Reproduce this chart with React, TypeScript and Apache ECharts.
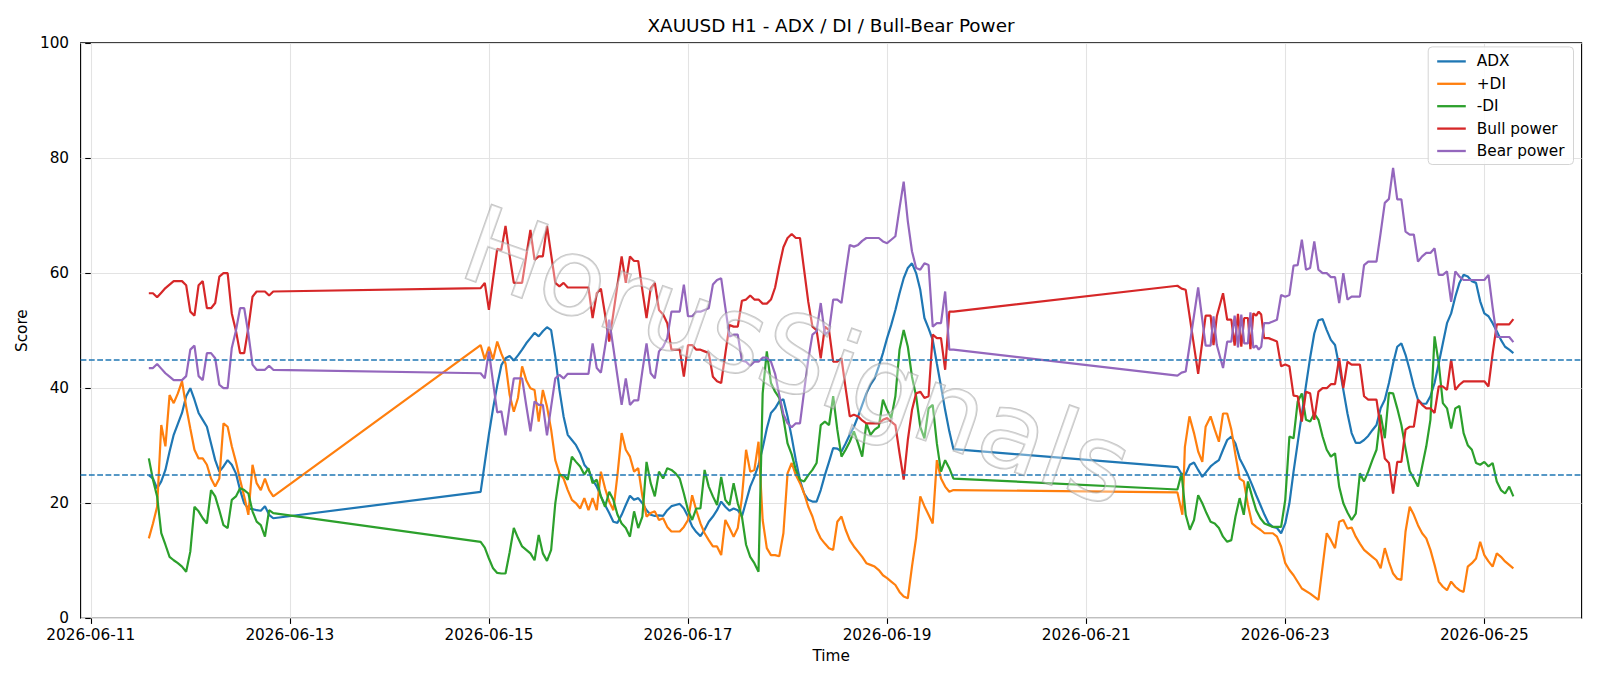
import React, { useEffect, useRef } from "react";
import * as echarts from "echarts";

// Time is expressed in hours after 2026-06-11 00:00
const SEG1_START = 14;
const SEG2_START = 94;
const SEG3_START = 262;
const TICK_HOURS = [0, 48, 96, 144, 192, 240, 288, 336];

const TITLE = "XAUUSD H1 - ADX / DI / Bull-Bear Power";
const SERIES_NAMES = ["ADX", "+DI", "-DI", "Bull power", "Bear power"];
const COLORS = ["#1f77b4", "#ff7f0e", "#2ca02c", "#d62728", "#9467bd"];
const THRESHOLDS = [25, 45];

// ---------- ADX ----------
const adxSeg1 = [24.9, 24.3, 22.6, 23.8, 25.8, 29, 31.9, 33.8, 35.7, 38.6, 40, 38, 35.7, 34.5, 33.3, 30.4, 27.5, 25.5, 26.4, 27.5, 26.7, 25.2, 22.3, 20, 19.1, 19, 18.8, 18.7, 19.5, 18, 17.4];
const adxSeg2 = [
  22, 27, 32, 36.5, 40.5, 44, 45.2, 45.6, 44.8, 45.7,
  46.7, 47.8, 48.7, 49.6, 49, 49.9, 50.6, 50.1, 45.5, 39.7,
  35.1, 31.9, 31, 30.1, 28.7, 26.7, 25.8, 24.1, 22.9, 21.2,
  19.7, 18.3, 16.8, 16.6, 18, 19.7, 21.3, 20.6, 20.9, 20,
  18.8, 18, 17.8, 17.9, 17.8, 18.8, 19.5, 19.7, 19.9, 19.1,
  17.7, 16, 15, 14.3, 15.4, 16.8, 17.7, 18.8, 20.3, 19.4,
  18.7, 19.1, 18.8, 17.7, 20.3, 22.9, 24.6, 26.7, 29.6, 33,
  35.7, 36.5, 37.7, 38.1, 35.1, 31.5, 27.5, 24, 21.7, 20.6,
  20.3, 20.3, 22.3, 24.9, 27.2, 29.6, 29.5, 29, 30.4, 31.9,
  33.3, 35.1, 37.1, 39.1, 40.6, 41.7, 43.8, 46.1, 48.7, 51,
  53.6, 56.5, 59.1, 60.9, 61.7, 60, 57.1, 52.2, 50.4, 48.4,
  44.3, 40.3, 36.2, 32.5, 29.4,
];
const adxSeg3 = [
  26.3, 25.1, 25.1, 26.7, 27.1, 25.8, 24.6, 25.5, 26.4, 27,
  27.5, 29.3, 31, 31.6, 30.4, 27.8, 26.4, 24.9, 23.2, 21.4,
  19.7, 18, 16.5, 15.9, 15.7, 14.8, 16.5, 20, 25.5, 30.5,
  35.5, 40.5, 45.3, 49.5, 51.8, 52, 50.1, 48.4, 47.5, 43.8,
  39.7, 35.6, 32.2, 30.5, 30.5, 31, 31.7, 32.7, 33.6, 36.5,
  38, 40.9, 44.3, 47.2, 47.8, 45.8, 43.2, 40.3, 38, 37.3,
  37.3, 38.6, 40.9, 44.3, 47.8, 51.3, 53, 55.9, 58.3, 59.7,
  59.4, 58.6, 58.3, 55.1, 53, 52.5, 51.3, 49.9, 48.4, 47.2,
  46.7, 46.1,
];

// ---------- +DI ----------
const pdiSeg1 = [13.9, 16.5, 19.4, 33.6, 29.9, 38.8, 37.4, 39.1, 41.2, 36.8, 33, 29.3, 27.8, 27.8, 26.7, 24.3, 22.9, 24.3, 33.9, 33.3, 29.9, 27.2, 24.1, 21.2, 18, 26.7, 23.5, 22.3, 24.3, 22.3, 21.2];
const pdiSeg2 = [
  47.5, 45, 47.2, 45, 48.1, 46, 44.3, 38.8, 35.9, 38.3,
  43.8, 41.4, 40, 39.7, 34.2, 39.7, 36.8, 32.8, 27.5, 25.2,
  24.3, 22.3, 20.6, 20, 19.1, 20.9, 18.8, 20.9, 18.8, 25.5,
  22.6, 20.3, 18.8, 25, 32.2, 29.3, 28.1, 25.5, 26.1, 21.2,
  17.7, 18.3, 18.6, 17.1, 17.4, 15.9, 15.1, 15.1, 15.1, 15.9,
  17.1, 21.4, 18.8, 16.5, 14.8, 13.6, 12.5, 12.5, 11, 17.1,
  15.7, 14.2, 15.7, 21, 29.3, 25.5, 25.8, 30.7, 17.1, 12.2,
  11, 11, 10.8, 14.8, 25.2, 27, 24.9, 23.5, 21.7, 19.4,
  17.7, 15.4, 13.9, 13, 12.2, 11.9, 16.8, 17.7, 15.4, 13.6,
  12.5, 11.6, 10.7, 9.6, 9.3, 9, 8.4, 7.5, 7, 6.4,
  5.8, 4.6, 3.8, 3.5, 9, 14, 21.2, 19.5, 18, 16.5,
  27.5, 24.3, 22.9, 22, 22.3,
];
const pdiSeg3Early: [number, number][] = [
  [262, 21.9], [263.2, 18], [263.8, 29.8], [264.9, 35.1], [266, 32.2], [267, 29], [268, 27.2],
  [268.8, 33.3], [270, 35.1], [271, 32.8], [272, 30.7], [273, 35.6], [274, 35.6], [275, 32.8],
  [276, 28.4], [277, 24.3], [278, 23.8], [279, 19.7], [280, 16.5], [281, 15.9], [282, 15.4],
  [283, 14.8], [284, 14.8], [285, 14.8], [286, 14.2], [287, 12.5], [288, 9.6], [289, 8.4],
  [290, 7.5], [292, 5.2], [294, 4.3], [296, 3.2],
];
const PDI_SEG3_LATE_START = 298;
const pdiSeg3Late = [
  14.8, 13.6, 12.2, 16.8, 17.1, 15.6, 15.8, 14.2, 13, 11.9,
  11.3, 10.7, 10.1, 8.7, 12.2, 9.8, 7.8, 6.9, 6.7, 15.1,
  19.4, 18, 16.2, 14.8, 13.9, 11.9, 9.3, 6.4, 5.5, 4.9,
  6.4, 5.5, 4.9, 4.6, 9, 9.6, 10.4, 13.3, 11, 9.9,
  9, 11.3, 10.7, 9.9, 9.3, 8.7,
];

// ---------- -DI ----------
const mdiSeg1 = [27.8, 24.1, 21.2, 14.8, 12.8, 10.7, 10.1, 9.6, 9, 8.1, 11.6, 19.4, 18.6, 17.4, 16.5, 22.3, 21.2, 18.8, 16.2, 15.7, 20.6, 21.2, 22.6, 22.3, 21.7, 18.6, 16.8, 16.2, 14.2, 18.8, 18.3];
const mdiSeg2 = [
  13.3, 12.3, 10.4, 8.7, 7.9, 7.8, 7.8, 11.5, 15.7, 14,
  12.5, 11.9, 11.3, 10.1, 14.5, 11.3, 10, 11.9, 20, 24.9,
  24.9, 24.1, 28.1, 27.2, 26.4, 25, 26.1, 23.5, 24.1, 21.2,
  19.4, 22, 20.6, 18, 16.5, 15.7, 14.2, 18.6, 15.7, 17.7,
  27.2, 23.5, 21.2, 25.5, 24.3, 26.1, 25.8, 25.2, 24.3, 21.7,
  18.8, 17.1, 19.1, 19.1, 25.8, 22.9, 21.2, 19.7, 24.6, 20.6,
  19.7, 23.5, 20, 17.7, 12.8, 10.7, 9.6, 8.1, 39.1, 46.4,
  40.9, 39.4, 38.3, 34.8, 30.4, 28.5, 25.8, 24.1, 23.8, 24.9,
  25.8, 27, 33.6, 34.2, 33.6, 38.6, 32.8, 28.1, 29.3, 30.7,
  32.5, 30.4, 28.1, 33.9, 31.9, 32.8, 33.3, 38, 36.2, 34.8,
  38.6, 46.7, 50.1, 47.2, 42, 38.6, 33.3, 31.3, 36.5, 37.1,
  30.4, 25.5, 27.5, 26.1, 24.3,
];
const mdiSeg3 = [
  22.4, 25.2, 18, 15.4, 17.1, 21.4, 20, 18.3, 16.8, 16.5,
  15.7, 14.2, 13.3, 13.6, 17.7, 20.9, 18, 23.8, 21.2, 18.8,
  17.4, 16.5, 16.2, 15.9, 15.9, 15.9, 20.6, 31.6, 31.3, 37.7,
  39.1, 34.5, 34.2, 35.6, 34.5, 31.6, 29.3, 28.1, 28.7, 22.9,
  20, 18.4, 17.1, 18.2, 25.2, 23.8, 25.5, 27.5, 29.3, 35.4,
  31.3, 39.2, 39.1, 36.5, 33.6, 29.5, 25.6, 24.3, 22.9, 26.4,
  29.9, 34.5, 49, 44.3, 37.4, 36.5, 33, 36.5, 36.9, 32.2,
  30.1, 29.3, 27, 26.7, 27.2, 26.4, 27, 23.8, 22.3, 21.7,
  22.9, 21.2,
];

// ---------- Bull power ----------
const bullSeg1 = [56.5, 56.5, 55.8, 56.6, 57.4, 58, 58.6, 58.6, 58.6, 57.9, 53.3, 52.6, 57.9, 58.6, 53.9, 53.9, 54.8, 59.4, 60, 60, 53, 50, 46.1, 46.1, 50.5, 55.9, 56.8, 56.8, 56.8, 56.1, 56.8];
const bullSeg2 = [
  57.4, 58.3, 53.6, 59, 64.2, 64, 68.2, 63, 58.3, 58.3,
  58.3, 63, 67.5, 62.3, 62.9, 62.9, 68.2, 63.2, 58.3, 57.7,
  58.3, 57.5, 57.5, 57.5, 57.5, 57.5, 57.5, 52.2, 56.5, 57.3,
  52.8, 48.1, 53, 58, 62.9, 58.3, 62.9, 62.1, 62.1, 57,
  52.2, 57.4, 58.3, 53.6, 52.8, 51.3, 46.7, 46.7, 46.7, 42,
  47.5, 47.5, 46.7, 46.7, 46.4, 46.1, 42, 41.2, 40.9, 46,
  51, 50.7, 50.7, 55.2, 55.4, 56.1, 55.4, 55.4, 54.7, 54.7,
  55.4, 57.5, 61.2, 64.5, 66.1, 66.8, 66.1, 66.1, 60.5, 55,
  50.7, 50.1, 45.2, 50.7, 50.1, 44.6, 44.6, 45.2, 40, 35.1,
  35.4, 35.1, 34.4, 33.9, 33.9, 33.9, 33.9, 34.5, 34.8, 34.2,
  33.6, 28.7, 24.1, 31, 36.2, 39.1, 39.4, 38.3, 38.6, 49.3,
  48.7, 48.7, 43.2, 53.3, 53.3,
];
const bullSeg3Early: [number, number][] = [
  [262, 57.8], [263, 57.3], [264, 57.1], [267, 42.5], [268.8, 52.6], [270, 52.6], [270.7, 47.5],
  [271.5, 52.5], [273, 56.5], [274, 51.9], [275, 51.9], [275.8, 47.4], [276.6, 52.9], [277.4, 47.2],
  [278.1, 52.2], [279, 52.2], [279.6, 46.8], [280.3, 53], [281, 52.6], [281.6, 53.3], [282.2, 52.8],
  [282.9, 48.7], [284, 48.7], [285, 48.4], [286, 48.1], [287, 43.8], [288, 44.1], [289, 43.8],
];
const POWER_SEG3_LATE_START = 290;
const bullSeg3Late = [
  38.7, 38.6, 34.2, 39.4, 39.1, 34.5, 39.4, 40, 40, 40.7,
  40.7, 45.2, 40, 44.6, 44.1, 44.1, 44.1, 38.6, 38, 38,
  38, 33, 27.8, 27, 21.7, 27.2, 27.2, 32.8, 33.3, 33.3,
  38, 37.1, 36.5, 36.5, 35.7, 40.3, 40.3, 39.7, 45, 39.7,
  40.6, 41.2, 41.2, 41.2, 41.2, 41.2, 41.2, 40.3, 46, 51.1,
  51.1, 51.1, 51.1, 52,
];

// ---------- Bear power ----------
const bearSeg1 = [43.5, 43.5, 44.2, 43.4, 42.6, 42, 41.4, 41.4, 41.4, 42.1, 46.7, 47.4, 42.1, 41.4, 46.1, 46.1, 45.2, 40.6, 40, 40, 47, 50, 53.9, 53.9, 49.5, 44.1, 43.2, 43.2, 43.2, 43.9, 43.2];
const bearSeg2 = [
  42.6, 41.7, 46.4, 41, 35.8, 36, 31.8, 37, 41.7, 41.7,
  41.7, 37, 32.5, 37.7, 37.1, 37.1, 31.8, 36.8, 41.7, 42.3,
  41.7, 42.5, 42.5, 42.5, 42.5, 42.5, 42.5, 47.8, 43.5, 42.7,
  47.2, 51.9, 47, 42, 37.1, 41.7, 37.1, 37.9, 37.9, 43,
  47.8, 42.6, 41.7, 46.4, 47.2, 48.7, 53.3, 53.3, 53.3, 58,
  52.5, 52.5, 53.3, 53.3, 53.6, 53.9, 58, 58.8, 59.1, 54,
  49, 49.3, 49.3, 44.8, 44.6, 43.9, 44.6, 44.6, 45.3, 45.3,
  44.6, 42.5, 38.8, 35.5, 33.9, 33.2, 33.9, 33.9, 39.5, 45,
  49.3, 49.9, 54.8, 49.3, 49.9, 55.4, 55.4, 54.8, 60, 64.9,
  64.6, 64.9, 65.6, 66.1, 66.1, 66.1, 66.1, 65.5, 65.2, 65.8,
  66.4, 71.3, 75.9, 69, 63.8, 60.9, 60.6, 61.7, 61.4, 50.7,
  51.3, 51.3, 56.8, 46.7, 46.7,
];
const bearSeg3Early: [number, number][] = [
  [262, 42.2], [263, 42.7], [264, 42.9], [267, 57.5], [268.8, 47.4], [270, 47.4], [270.7, 52.5],
  [271.5, 47.5], [273, 43.5], [274, 48.1], [275, 48.1], [275.8, 52.6], [276.6, 47.1], [277.4, 52.8],
  [278.1, 47.8], [279, 47.8], [279.6, 53.2], [280.3, 47], [281, 47.4], [281.6, 46.7], [282.2, 47.2],
  [282.9, 51.3], [284, 51.3], [285, 51.6], [286, 51.9], [287, 56.2], [288, 55.9], [289, 56.2],
];
const bearSeg3Late = [
  61.3, 61.4, 65.8, 60.6, 60.9, 65.5, 60.6, 60, 60, 59.3,
  59.3, 54.8, 60, 55.4, 55.9, 55.9, 55.9, 61.4, 62, 62,
  62, 67, 72.2, 72.9, 78.3, 72.8, 72.8, 67.2, 66.7, 66.7,
  62, 62.9, 63.5, 63.5, 64.3, 59.7, 59.7, 60.3, 55, 60.3,
  59.4, 58.8, 58.8, 58.8, 58.8, 58.8, 58.8, 59.7, 54, 48.9,
  48.9, 48.9, 48.9, 48,
];

function hourly(start: number, values: number[]): [number, number][] {
  return values.map((v, i) => [start + i, v] as [number, number]);
}

const adxData = [...hourly(SEG1_START, adxSeg1), ...hourly(SEG2_START, adxSeg2), ...hourly(SEG3_START, adxSeg3)];
const pdiData = [...hourly(SEG1_START, pdiSeg1), ...hourly(SEG2_START, pdiSeg2), ...pdiSeg3Early, ...hourly(PDI_SEG3_LATE_START, pdiSeg3Late)];
const mdiData = [...hourly(SEG1_START, mdiSeg1), ...hourly(SEG2_START, mdiSeg2), ...hourly(SEG3_START, mdiSeg3)];
const bullData = [...hourly(SEG1_START, bullSeg1), ...hourly(SEG2_START, bullSeg2), ...bullSeg3Early, ...hourly(POWER_SEG3_LATE_START, bullSeg3Late)];
const bearData = [...hourly(SEG1_START, bearSeg1), ...hourly(SEG2_START, bearSeg2), ...bearSeg3Early, ...hourly(POWER_SEG3_LATE_START, bearSeg3Late)];

const ALL_DATA = [adxData, pdiData, mdiData, bullData, bearData];

const BASE_UTC = Date.UTC(2026, 5, 11, 0, 0, 0);
function fmtDate(h: number): string {
  const d = new Date(BASE_UTC + Math.round(h) * 3600 * 1000);
  const mm = String(d.getUTCMonth() + 1).padStart(2, "0");
  const dd = String(d.getUTCDate()).padStart(2, "0");
  return `${d.getUTCFullYear()}-${mm}-${dd}`;
}

const FONT = "DejaVu Sans";

export default function App() {
  const ref = useRef<HTMLDivElement>(null);
  useEffect(() => {
    if (!ref.current) return;
    const chart = echarts.init(ref.current, undefined, { renderer: "svg" });
    const series: any[] = SERIES_NAMES.map((name, i) => ({
      name,
      type: "line",
      data: ALL_DATA[i],
      showSymbol: false,
      symbol: "none",
      lineStyle: { width: 2.2, color: COLORS[i] },
      itemStyle: { color: COLORS[i] },
      emphasis: { disabled: true },
      z: 3,
    }));
    series[0].markLine = {
      silent: true,
      symbol: "none",
      label: { show: false },
      lineStyle: { color: "#1f77b4", type: [5.8, 2.5], width: 1.6 },
      data: THRESHOLDS.map((v) => ({ yAxis: v })),
      z: 5,
    };
    chart.setOption({
      animation: false,
      backgroundColor: "#ffffff",
      textStyle: { fontFamily: FONT },
      grid: {
        left: 80.6,
        right: 18.4,
        top: 42.9,
        bottom: 67.6,
        show: true,
        borderColor: "#000",
        borderWidth: 1.1,
        backgroundColor: "transparent",
      },
      legend: {
        orient: "vertical",
        right: 26.5,
        top: 46.9,
        data: SERIES_NAMES,
        icon: "rect",
        itemWidth: 28.6,
        itemHeight: 2.3,
        itemGap: 7.4,
        padding: [7, 9, 6, 9],
        backgroundColor: "rgba(255,255,255,0.85)",
        borderColor: "#d4d4d4",
        borderWidth: 1,
        borderRadius: 4,
        textStyle: { fontSize: 15.3, color: "#000", fontFamily: FONT, padding: [0, 0, 0, 6] },
      },
      xAxis: {
        type: "value",
        min: -2.45,
        max: 359.45,
        name: "Time",
        nameLocation: "middle",
        nameGap: 30,
        nameTextStyle: { fontSize: 15.3, color: "#000", fontFamily: FONT },
        axisLine: { show: false },
        axisTick: { show: true, length: 5.5, lineStyle: { color: "#000", width: 1.1 }, customValues: TICK_HOURS },
        axisLabel: {
          customValues: TICK_HOURS,
          formatter: (v: number) => fmtDate(v),
          fontSize: 15.3,
          color: "#000",
          margin: 9,
          fontFamily: FONT,
        },
        splitLine: { show: true, lineStyle: { color: "#e3e3e3", width: 1.1 } },
      },
      yAxis: {
        type: "value",
        min: 0,
        max: 100,
        interval: 20,
        name: "Score",
        nameLocation: "middle",
        nameGap: 47,
        nameTextStyle: { fontSize: 15.3, color: "#000", fontFamily: FONT },
        axisLine: { show: false },
        axisTick: { show: true, length: 5.5, lineStyle: { color: "#000", width: 1.1 } },
        axisLabel: { fontSize: 15.3, color: "#000", margin: 11.5, fontFamily: FONT },
        splitLine: { show: true, lineStyle: { color: "#e3e3e3", width: 1.1 } },
      },
      graphic: [
        {
          type: "text",
          x: 831,
          y: 25.5,
          style: {
            text: TITLE,
            fontSize: 18.4,
            fontFamily: FONT,
            fill: "#000",
            align: "center",
            verticalAlign: "middle",
          },
        },
        {
          type: "text",
          x: 797,
          y: 356,
          rotation: -0.34,
          silent: true,
          z: 100,
          style: {
            text: "HorusSignals",
            fontSize: 107,
            fontFamily: FONT,
            fill: "rgba(255,255,255,0.35)",
            stroke: "rgba(150,150,150,0.55)",
            lineWidth: 1.8,
            align: "center",
            verticalAlign: "middle",
          },
        },
      ],
      series,
    });
    return () => chart.dispose();
  }, []);
  return (
    <div
      ref={ref}
      style={{ position: "absolute", left: 0, top: 0, width: 1600, height: 686, background: "#fff" }}
    />
  );
}
